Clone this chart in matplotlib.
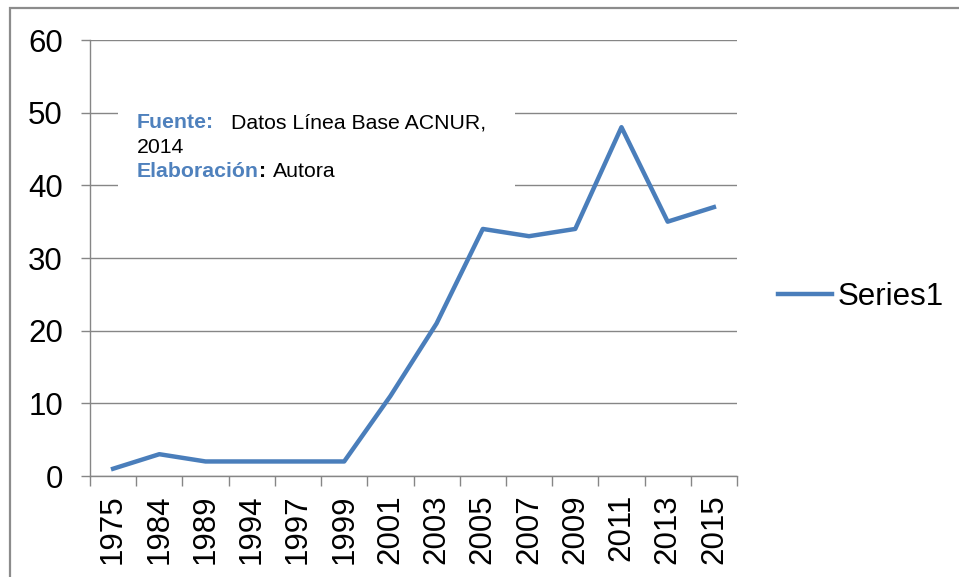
import numpy as np
import matplotlib
matplotlib.use('Agg')
import matplotlib.pyplot as plt
from matplotlib.patches import Rectangle
from matplotlib.lines import Line2D

plt.rcParams['font.family'] = ['Liberation Sans', 'DejaVu Sans']

years = ['1975', '1984', '1989', '1994', '1997', '1999', '2001',
         '2003', '2005', '2007', '2009', '2011', '2013', '2015']
values = [1, 3, 2, 2, 2, 2, 11, 21, 34, 33, 34, 48, 35, 37]
series_name = 'Series1'

line_color = '#4A7EBB'
note_blue = '#4F81BD'
grid_color = '#868686'

W, H = 959, 577
fig = plt.figure(figsize=(W / 100, H / 100), dpi=100)
ax = fig.add_axes([90 / W, 1 - 476 / H, (737 - 90) / W, (476 - 40) / H])

# marco exterior del gráfico (solo se ven lados izquierdo y superior)
frame = Rectangle((10 / W, -0.2), 1.5, 1 - 8 / H + 0.2, transform=fig.transFigure,
                  fill=False, edgecolor='#8C8C8C', lw=1.6)
fig.patches.append(frame)

x = np.arange(len(years))
ax.plot(x, values, color=line_color, lw=3.2, zorder=3)

ax.set_xlim(-0.5, len(years) - 0.5)
ax.set_ylim(0, 60)
ax.set_yticks(range(0, 61, 10))
ax.yaxis.grid(True, color=grid_color, lw=1)
ax.set_axisbelow(True)

for s in ['top', 'right']:
    ax.spines[s].set_visible(False)
for s in ['left', 'bottom']:
    ax.spines[s].set_color(grid_color)
    ax.spines[s].set_linewidth(1)

ax.tick_params(axis='y', length=6.5, width=1, color=grid_color, labelsize=22.5, pad=13)
ax.set_xticks(x)
ax.set_xticklabels(years, rotation=90)
ax.tick_params(axis='x', which='major', length=0, labelsize=22.5, pad=13)
ax.set_xticks(np.arange(-0.5, len(years), 1), minor=True)
ax.tick_params(axis='x', which='minor', length=7.2, width=1, color=grid_color)

# cuadro de texto con fondo blanco
ax.add_patch(Rectangle((0.0433, 0.633), 0.614, 0.229, transform=ax.transAxes,
                       facecolor='white', edgecolor='none', zorder=1))

fs = 15.3
t1 = ax.text(0.0726, 0.798, 'Fuente:', transform=ax.transAxes, color=note_blue,
             weight='bold', fontsize=fs, va='baseline', zorder=4)
ax.annotate('Datos Línea Base ACNUR,', xy=(1, 0), xycoords=t1, xytext=(12, 0),
            textcoords='offset points', va='bottom', fontsize=fs, color='black', zorder=4)
ax.text(0.0726, 0.741, '2014', transform=ax.transAxes, fontsize=fs,
        va='baseline', color='black', zorder=4)
t4 = ax.text(0.0726, 0.686, 'Elaboración', transform=ax.transAxes, color=note_blue,
             weight='bold', fontsize=fs, va='baseline', zorder=4)
t5 = ax.annotate(':', xy=(1, 0), xycoords=t4, xytext=(0, 0), textcoords='offset points',
                 va='bottom', fontsize=fs, weight='bold', color='black', zorder=4)
ax.annotate('Autora', xy=(1, 0), xycoords=t5, xytext=(5, 0), textcoords='offset points',
            va='bottom', fontsize=fs, color='black', zorder=4)

handle = Line2D([], [], color=line_color, lw=3.2)
fig.legend([handle], [series_name], loc='center left',
           bbox_to_anchor=(778 / W, 1 - 297 / H), frameon=False, fontsize=22.5,
           handlelength=1.72, handletextpad=0.2, borderpad=0, borderaxespad=0)

fig.savefig('out.png', dpi=100)
